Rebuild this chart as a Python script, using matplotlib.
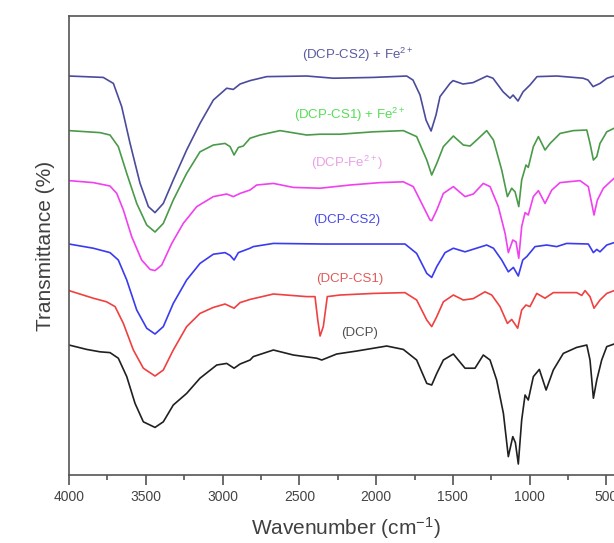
import matplotlib
matplotlib.use("Agg")
import matplotlib.pyplot as plt
from matplotlib.ticker import MultipleLocator

plt.rcParams['font.family'] = ['Liberation Sans', 'DejaVu Sans']
plt.rcParams['mathtext.fontset'] = 'custom'
plt.rcParams['mathtext.rm'] = 'Liberation Sans'
plt.rcParams['mathtext.it'] = 'Liberation Sans'

# spectra (wavenumber, stacked transmittance a.u.)
cs2_fe_w = [4000, 3777, 3711, 3657, 3603, 3538, 3483, 3440, 3386, 3321, 3234, 3147,
            3060, 2973, 2930, 2886, 2821, 2712, 2452, 2278, 2018, 1801, 1760, 1714,
            1675, 1642, 1610, 1584, 1519, 1499, 1434, 1369, 1278, 1239, 1173, 1128,
            1108, 1076, 1043, 998, 952, 822, 652, 620, 587, 542, 496, 450, 400]
cs2_fe_t = [99.75, 99.4, 97.9, 92.1, 83.0, 73.0, 67.1, 65.6, 67.9, 73.75, 81.25, 87.9,
            93.75, 96.7, 96.4, 97.75, 98.6, 99.6, 99.75, 99.2, 99.4, 99.75, 98.75, 95.0,
            88.75, 86.0, 90.0, 94.6, 97.9, 98.6, 97.75, 98.1, 99.75, 99.2, 95.8, 94.2,
            95.0, 93.5, 95.8, 97.5, 99.6, 99.75, 99.2, 98.75, 97.1, 97.9, 99.2, 99.75, 99.75]

cs1_fe_w = [4000, 3798, 3733, 3679, 3624, 3559, 3494, 3440, 3386, 3321, 3234, 3147,
            3060, 2984, 2951, 2925, 2897, 2865, 2821, 2756, 2626, 2452, 2365, 2235,
            2018, 1823, 1736, 1670, 1638, 1605, 1562, 1497, 1432, 1388, 1345, 1280,
            1236, 1182, 1145, 1117, 1095, 1071, 1052, 1024, 1009, 976, 943, 900, 867,
            802, 716, 628, 607, 585, 563, 542, 498, 450, 400]
cs1_fe_t = [86.1, 85.6, 85.0, 82.1, 75.4, 67.9, 62.5, 60.75, 62.9, 68.75, 75.4, 80.8,
            82.5, 82.9, 82.1, 80.0, 81.9, 82.25, 84.2, 85.0, 86.1, 85.0, 85.2, 85.2,
            85.8, 86.1, 84.6, 78.75, 75.0, 77.9, 82.1, 84.75, 82.5, 82.25, 83.75, 86.1,
            83.75, 76.25, 69.6, 71.7, 70.8, 67.1, 73.75, 77.5, 76.9, 82.1, 84.6, 81.25, 82.9,
            85.4, 86.1, 86.25, 82.9, 78.75, 79.6, 82.9, 85.8, 86.7, 86.7]

fe_w = [4000, 3842, 3733, 3689, 3646, 3592, 3527, 3472, 3440, 3396, 3331, 3256,
        3168, 3060, 2973, 2930, 2886, 2821, 2778, 2669, 2539, 2365, 2170, 1974,
        1823, 1758, 1703, 1649, 1638, 1605, 1562, 1497, 1421, 1367, 1302, 1258,
        1204, 1160, 1139, 1110, 1089, 1071, 1052, 1030, 1009, 976, 943, 900, 856,
        802, 672, 618, 596, 581, 559, 520, 450, 400]
fe_t = [73.6, 73.1, 72.25, 70.4, 66.25, 59.6, 53.75, 51.4, 51.1, 52.5, 57.9, 62.9,
        67.1, 69.6, 70.25, 69.6, 70.4, 71.25, 72.5, 72.9, 71.9, 71.7, 72.5, 73.1,
        73.3, 72.1, 67.9, 63.75, 63.6, 66.25, 70.4, 72.1, 69.6, 70.25, 72.9, 72.1,
        67.1, 60.4, 55.6, 58.75, 58.3, 54.2, 62.1, 65.6, 65.0, 69.6, 71.1, 67.9, 71.25,
        73.1, 73.6, 72.1, 67.9, 65.0, 68.75, 71.7, 74.2, 74.2]

cs2_w = [4000, 3842, 3733, 3679, 3624, 3559, 3494, 3440, 3386, 3321, 3234, 3147,
         3060, 2984, 2951, 2925, 2897, 2821, 2800, 2669, 2344, 2018, 1812, 1736,
         1670, 1638, 1605, 1551, 1497, 1421, 1280, 1236, 1182, 1139, 1106, 1074,
         1045, 1019, 965, 889, 824, 759, 618, 585, 563, 542, 498, 450, 400]
cs2_t = [57.75, 56.7, 55.6, 53.75, 48.75, 41.25, 36.7, 35.25, 37.1, 42.9, 48.75, 52.9,
         55.2, 55.6, 54.9, 53.75, 55.6, 56.7, 57.1, 57.9, 57.75, 57.75, 57.75, 55.4,
         50.4, 49.4, 52.1, 55.6, 56.7, 55.8, 57.5, 56.7, 53.75, 50.8, 51.9, 49.75,
         53.75, 54.6, 57.1, 57.5, 57.1, 57.9, 57.75, 55.6, 56.4, 55.8, 57.5, 58.1, 58.1]

cs1_w = [4000, 3842, 3755, 3700, 3646, 3581, 3516, 3440, 3386, 3321, 3234, 3147,
         3060, 2984, 2925, 2886, 2821, 2669, 2452, 2398, 2380, 2365, 2344, 2318,
         2235, 2018, 1812, 1736, 1670, 1638, 1605, 1562, 1497, 1432, 1367, 1291,
         1247, 1193, 1145, 1117, 1078, 1052, 1024, 998, 954, 900, 846, 694, 661,
         639, 607, 581, 542, 498, 450, 400]
cs1_t = [46.1, 44.2, 43.3, 42.1, 37.9, 31.25, 26.7, 24.75, 26.25, 31.25, 37.1, 40.4,
         41.9, 42.75, 41.7, 43.1, 43.9, 45.25, 44.6, 44.6, 38.75, 34.75, 37.1, 44.6,
         45.0, 45.4, 45.6, 43.75, 38.75, 37.1, 39.6, 43.3, 45.0, 43.75, 44.1, 45.8,
         45.0, 42.1, 37.9, 38.9, 36.7, 41.25, 42.5, 42.1, 45.4, 44.2, 45.6, 45.6, 44.9,
         46.1, 44.6, 41.7, 43.75, 45.4, 46.1, 46.1]

dcp_w = [4000, 3885, 3798, 3733, 3679, 3624, 3570, 3516, 3440, 3386, 3321, 3234,
         3147, 3038, 2973, 2925, 2886, 2821, 2800, 2669, 2539, 2387, 2354, 2257,
         2126, 1931, 1823, 1736, 1670, 1638, 1605, 1562, 1497, 1421, 1356, 1302,
         1258, 1215, 1171, 1139, 1110, 1093, 1074, 1052, 1030, 1009, 976, 937, 893,
         846, 781, 694, 628, 607, 585, 563, 531, 498, 450, 400]
dcp_t = [32.5, 31.4, 30.8, 30.6, 29.2, 24.6, 17.9, 13.3, 11.9, 13.3, 17.5, 20.4,
         24.2, 27.5, 27.9, 26.7, 27.75, 28.75, 29.6, 31.25, 30.0, 29.2, 28.75, 30.25,
         31.0, 32.25, 31.4, 28.75, 22.9, 22.5, 25.4, 28.75, 30.25, 26.7, 26.7, 30.0,
         28.75, 23.75, 15.4, 4.6, 9.6, 8.1, 2.75, 13.75, 20.0, 18.75, 24.6, 26.4, 21.25,
         26.25, 30.4, 31.9, 32.5, 28.75, 19.2, 23.75, 28.75, 32.1, 32.75, 32.75]

names = ['(DCP-CS2) + Fe$^{2+}$', '(DCP-CS1) + Fe$^{2+}$', '(DCP-Fe$^{2+}$)',
         '(DCP-CS2)', '(DCP-CS1)', '(DCP)']
wavenumbers = [cs2_fe_w, cs1_fe_w, fe_w, cs2_w, cs1_w, dcp_w]
spectra = [cs2_fe_t, cs1_fe_t, fe_t, cs2_t, cs1_t, dcp_t]

line_colors = ['#4b4b9e', '#4a9a4a', '#f040f0', '#3a3af0', '#f04040', '#202020']
label_colors = ['#5a5aa0', '#55dd55', '#e8a0e8', '#4a4ae8', '#e05a5a', '#505050']
label_pos = [(2118, 105), (2170, 90), (2189, 78), (2189, 63.75), (2170, 49), (2105, 35.5)]

fig = plt.figure(figsize=(6.14, 5.43), dpi=100)
ax = fig.add_axes([0.1124, 0.1252, 0.9003, 0.8453])

for w, t, c in zip(wavenumbers, spectra, line_colors):
    ax.plot(w, t, '-', color=c, lw=1.2)

for name, (x, y), c in zip(names, label_pos, label_colors):
    ax.text(x, y, name, color=c, fontsize=9.5, ha='center', va='center')

ax.set_xlim(4000, 400)
ax.set_ylim(0, 114.75)

ax.xaxis.set_major_locator(MultipleLocator(500))
ax.xaxis.set_minor_locator(MultipleLocator(250))
ax.set_yticks([])
ax.tick_params(axis='x', which='major', direction='out', length=7, width=1.1,
               colors='#444444', labelsize=10, pad=4)
ax.tick_params(axis='x', which='minor', direction='out', length=3.5, width=1.1,
               colors='#444444')
for s in ax.spines.values():
    s.set_color('#555555')
    s.set_linewidth(1.2)

ax.set_xlabel('Wavenumber (cm$^{-1}$)', fontsize=15, color='#404040', labelpad=8)
ax.set_ylabel('Transmittance (%)', fontsize=15, color='#404040', labelpad=10)

plt.savefig('out.png', dpi=100)
